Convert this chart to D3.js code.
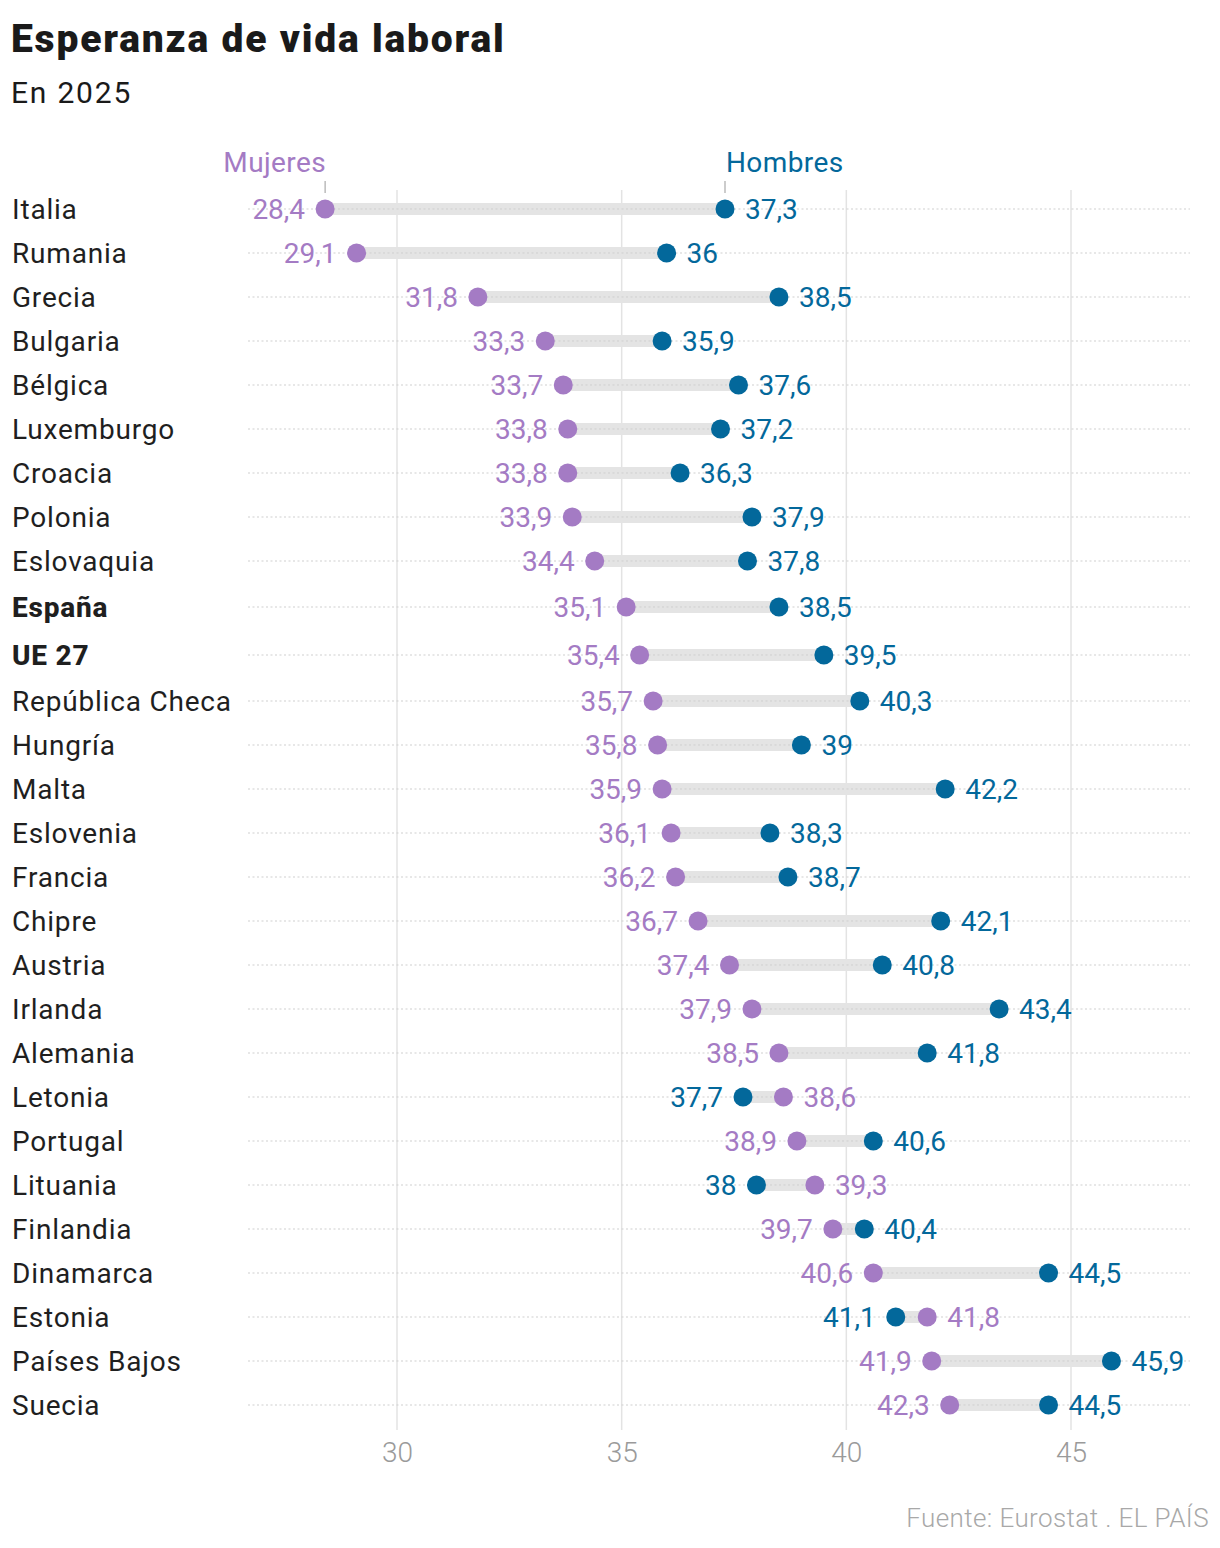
<!DOCTYPE html>
<html>
<head>
<meta charset="utf-8">
<script src="https://cdn.jsdelivr.net/npm/d3@7"></script>
<style>
  body { margin: 0; background: #fff; }
  svg text { font-family: Roboto, "Liberation Sans", sans-serif; }
</style>
</head>
<body>
<svg id="chart" width="1220" height="1548"></svg>
<script>
var paises = ["Italia", "Rumania", "Grecia", "Bulgaria", "Bélgica", "Luxemburgo", "Croacia",
  "Polonia", "Eslovaquia", "España", "UE 27", "República Checa", "Hungría", "Malta",
  "Eslovenia", "Francia", "Chipre", "Austria", "Irlanda", "Alemania", "Letonia", "Portugal",
  "Lituania", "Finlandia", "Dinamarca", "Estonia", "Países Bajos", "Suecia"];
var mujeres = [28.4, 29.1, 31.8, 33.3, 33.7, 33.8, 33.8, 33.9, 34.4, 35.1, 35.4, 35.7, 35.8, 35.9,
  36.1, 36.2, 36.7, 37.4, 37.9, 38.5, 38.6, 38.9, 39.3, 39.7, 40.6, 41.8, 41.9, 42.3];
var hombres = [37.3, 36, 38.5, 35.9, 37.6, 37.2, 36.3, 37.9, 37.8, 38.5, 39.5, 40.3, 39, 42.2,
  38.3, 38.7, 42.1, 40.8, 43.4, 41.8, 37.7, 40.6, 38, 40.4, 44.5, 41.1, 45.9, 44.5];
var destacados = ["España", "UE 27"];
var ticks = [30, 35, 40, 45];

var colMuj = "#a47bc4", colHom = "#03689b";

var svg = d3.select("#chart");

var fmt = function(v) { return String(v).replace(".", ","); };

var data = paises.map(function(p, i) {
  return { pais: p, m: mujeres[i], h: hombres[i], bold: destacados.indexOf(p) >= 0 };
});

// row heights: highlighted rows are a bit taller
var alturas = data.map(function(d) { return d.bold ? 48 : 44; });
var acum = d3.cumsum(alturas);
var y0 = 187;
data.forEach(function(d, i) { d.y = y0 + acum[i] - alturas[i] / 2; });

var x = d3.scaleLinear().domain([30, 45]).range([397, 1071]);
var xMin = x.invert(248), xMax = x.invert(1190);

// title
svg.append("text").attr("x", 11).attr("y", 52).attr("font-size", 39).attr("font-weight", 900)
  .attr("fill", "#1a1a1a").attr("letter-spacing", 1.8).text("Esperanza de vida laboral");
svg.append("text").attr("x", 11).attr("y", 103).attr("font-size", 30).attr("font-weight", 400)
  .attr("fill", "#1a1a1a").attr("letter-spacing", 1.8).text("En 2025");

// vertical grid
svg.append("g").selectAll("line").data(ticks).enter().append("line")
  .attr("x1", function(d) { return x(d); }).attr("x2", function(d) { return x(d); })
  .attr("y1", 190).attr("y2", 1430)
  .attr("stroke", "#e3e3e3").attr("stroke-width", 1.5);

// x axis labels
var axis = d3.axisBottom(x).tickValues(ticks).tickSize(0).tickPadding(0);
var gAxis = svg.append("g").attr("transform", "translate(0,1442)").call(axis);
gAxis.select(".domain").remove();
gAxis.selectAll("text").attr("font-size", 28).attr("fill", "#9a9a9a").attr("font-weight", 300)
  .style("font-family", "Roboto, sans-serif");

var filas = svg.append("g").selectAll("g").data(data).enter().append("g");

// bars
filas.append("rect")
  .attr("x", function(d) { return x(Math.min(d.m, d.h)); })
  .attr("width", function(d) { return Math.abs(x(d.h) - x(d.m)); })
  .attr("y", function(d) { return d.y - 6; })
  .attr("height", 12)
  .attr("fill", "#e4e4e4");

// dotted row lines
filas.append("line")
  .attr("x1", x(xMin)).attr("x2", x(xMax))
  .attr("y1", function(d) { return d.y; }).attr("y2", function(d) { return d.y; })
  .attr("stroke", "#cfcfcf").attr("stroke-width", 1).attr("stroke-dasharray", "2,2.5");

// country labels
filas.append("text")
  .attr("x", 12).attr("y", function(d) { return d.y; }).attr("dy", "0.35em")
  .attr("font-size", 28).attr("font-weight", function(d) { return d.bold ? 800 : 400; })
  .attr("letter-spacing", 0.8)
  .attr("fill", "#1f1f1f")
  .text(function(d) { return d.pais; });

// dots
filas.append("circle").attr("cx", function(d) { return x(d.m); }).attr("cy", function(d) { return d.y; })
  .attr("r", 9.5).attr("fill", colMuj);
filas.append("circle").attr("cx", function(d) { return x(d.h); }).attr("cy", function(d) { return d.y; })
  .attr("r", 9.5).attr("fill", colHom);

// value labels
function etiqueta(sel, key, col) {
  sel.append("text")
    .attr("x", function(d) {
      var other = key === "m" ? d.h : d.m;
      return d[key] < other ? x(d[key]) - 20 : x(d[key]) + 20;
    })
    .attr("y", function(d) { return d.y; }).attr("dy", "0.35em")
    .attr("text-anchor", function(d) {
      var other = key === "m" ? d.h : d.m;
      return d[key] < other ? "end" : "start";
    })
    .attr("font-size", 28).attr("fill", col)
    .text(function(d) { return fmt(d[key]); });
}
etiqueta(filas, "m", colMuj);
etiqueta(filas, "h", colHom);

// legend
var first = data[0];
var leyenda = [
  { txt: "Mujeres", v: first.m, col: colMuj, anchor: "end" },
  { txt: "Hombres", v: first.h, col: colHom, anchor: "start" }
];
var gl = svg.append("g").selectAll("g").data(leyenda).enter().append("g");
gl.append("line")
  .attr("x1", function(d) { return x(d.v); }).attr("x2", function(d) { return x(d.v); })
  .attr("y1", 181).attr("y2", 193).attr("stroke", "#999").attr("stroke-width", 1);
gl.append("text")
  .attr("x", function(d) { return x(d.v) + 1; })
  .attr("y", 172).attr("text-anchor", function(d) { return d.anchor; })
  .attr("font-size", 28).attr("fill", function(d) { return d.col; }).attr("letter-spacing", 0.4)
  .text(function(d) { return d.txt; });

// source
svg.append("text").attr("x", 1209).attr("y", 1527).attr("text-anchor", "end")
  .attr("font-size", 26).attr("fill", "#a8a8a8").attr("font-weight", 300).attr("letter-spacing", 0.4)
  .text("Fuente: Eurostat . EL PAÍS");
</script>
</body>
</html>
